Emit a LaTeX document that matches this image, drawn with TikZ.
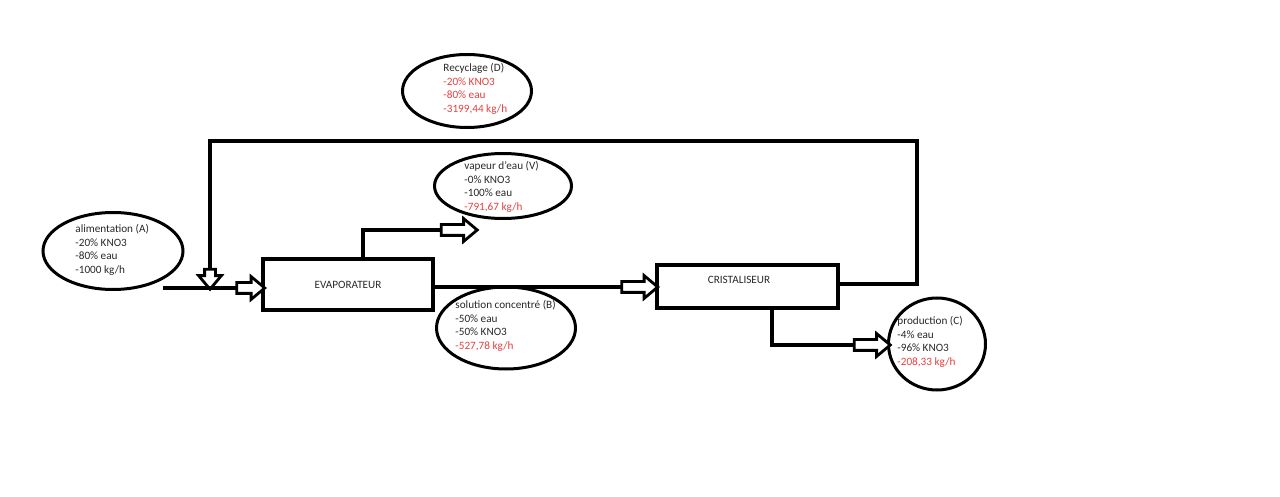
\documentclass[tikz,border=0pt]{standalone}
\usepackage{fontspec}
\setmainfont{Carlito}
\usetikzlibrary{shapes.geometric,shapes.arrows}
\definecolor{valred}{RGB}{228,64,64}
\definecolor{txtgray}{RGB}{40,40,40}

\begin{document}
\begin{tikzpicture}[x=0.5pt, y=-0.5pt,
    flow/.style={line width=1.8pt},
    procbox/.style={draw, line width=1.8pt, inner sep=0pt, font=\fontsize{5.6}{6.8}\selectfont, text=txtgray},
    stream/.style={ellipse, draw, line width=1.5pt, inner sep=0pt},
    streamtext/.style={anchor=west, align=left, inner sep=0pt, font=\fontsize{5.6}{6.8}\selectfont, text=txtgray},
    flowarrow/.style={single arrow, draw, line width=1.4pt, fill=white, inner xsep=0pt, inner ysep=2pt,
      outer sep=0pt, minimum width=0pt, single arrow head extend=3pt, single arrow tip angle=80}]
  \useasboundingbox (0,0) rectangle (1280,497);

  % Process units
  \node[procbox, minimum width=84.75pt, minimum height=25.75pt] (evap) at (348,284.5) {EVAPORATEUR};
  \node[procbox, minimum width=90.75pt, minimum height=21.75pt] (crist) at (747.5,286.5) {};
  \node[streamtext, anchor=center] (crist-txt) at (739,280) {CRISTALISEUR};

  % Stream bubbles (A, B, C, D, V)
  \foreach \name/\pos/\w/\h in {recyc/{467,91}/64.5/36.5, vap/{503,186}/68.5/32.5,
      alim/{113,251}/70/38.5, sol/{506,328}/69.5/41, prod/{937,344}/48.5/46} {
    \node[stream, minimum width=\w pt, minimum height=\h pt] (\name) at (\pos) {};
  }

  \node[streamtext] (recyc-txt) at (443,89) {Recyclage (D)\\\textcolor{valred}{-20\% KNO3}\\
    \textcolor{valred}{-80\% eau}\\\textcolor{valred}{-3199,44 kg/h}};
  \node[streamtext] (vap-txt) at (464,187) {vapeur d'eau (V)\\-0\% KNO3\\-100\% eau\\
    \textcolor{valred}{-791,67 kg/h}};
  \node[streamtext] (alim-txt) at (75,250) {alimentation (A)\\-20\% KNO3\\-80\% eau\\-1000 kg/h};
  \node[streamtext] (sol-txt) at (455,326) {solution concentré (B)\\-50\% eau\\-50\% KNO3\\
    \textcolor{valred}{-527,78 kg/h}};
  \node[streamtext] (prod-txt) at (897,342) {production (C)\\-4\% eau\\-96\% KNO3\\
    \textcolor{valred}{-208,33 kg/h}};

  % Hollow flow arrows
  \foreach \name/\pos/\len/\rot in {feed-arr/{247.5,288}/14/0, rec-arr/{210,276}/10/-90,
      vap-arr/{456,230}/18/0, evap-arr/{636.5,287}/18/0, prod-arr/{869,345}/18/0} {
    \node[flowarrow, minimum height=\len pt, rotate=\rot] (\name) at (\pos) {};
  }

  % Pipes
  \coordinate (feed-in) at (163,288);
  \coordinate (vap-out) at (363,258);
  \coordinate (rec-out) at (839,284);
  \coordinate (rec-corner) at (917,141);
  \coordinate (prod-out) at (772,310);

  \draw[flow] (feed-in) -- (feed-arr.tail);
  \draw[flow] (vap-out) |- (vap-arr.tail);
  \draw[flow] (evap.east |- evap-arr.tail) -- (evap-arr.tail);
  \draw[flow] (prod-out) |- (prod-arr.tail);
  \draw[flow] (rec-out) -| (rec-corner) -| (rec-arr.tail);
\end{tikzpicture}
\end{document}
